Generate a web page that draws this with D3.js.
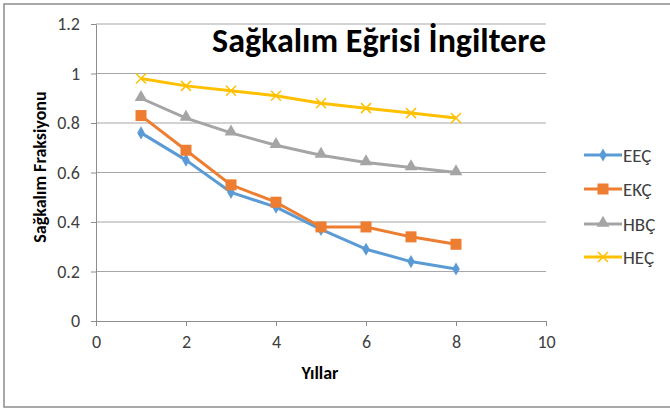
<!DOCTYPE html>
<html>
<head>
<meta charset="utf-8">
<script src="https://cdn.jsdelivr.net/npm/d3@7"></script>
<style>
  body { margin: 0; background: #fff; }
  text { font-family: Carlito, Calibri, "Open Sans", sans-serif; }
</style>
</head>
<body>
<svg id="chart" width="670" height="409"></svg>
<script>
const years = [1, 2, 3, 4, 5, 6, 7, 8];
const eec = [0.76, 0.65, 0.52, 0.46, 0.37, 0.29, 0.24, 0.21];
const ekc = [0.83, 0.69, 0.55, 0.48, 0.38, 0.38, 0.34, 0.31];
const hbc = [0.90, 0.82, 0.76, 0.71, 0.67, 0.64, 0.62, 0.60];
const hec = [0.98, 0.95, 0.93, 0.91, 0.88, 0.86, 0.84, 0.82];
const seriesNames = ["EEÇ", "EKÇ", "HBÇ", "HEÇ"];
const xTicks = [0, 2, 4, 6, 8, 10];
const yTicks = [0, 0.2, 0.4, 0.6, 0.8, 1, 1.2];

const series = [
  { name: seriesNames[0], values: eec, color: "#5b9bd5", marker: "diamond" },
  { name: seriesNames[1], values: ekc, color: "#ed7d31", marker: "square" },
  { name: seriesNames[2], values: hbc, color: "#a5a5a5", marker: "triangle" },
  { name: seriesNames[3], values: hec, color: "#ffc000", marker: "x" }
];

const svg = d3.select("#chart");

// outer chart border
svg.append("rect")
  .attr("x", 4).attr("y", 4)
  .attr("width", 680).attr("height", 403)
  .attr("fill", "none")
  .attr("stroke", "#8c8c8c")
  .attr("stroke-width", 1.5);

const x = d3.scaleLinear().domain([0, 10]).range([96, 546]);
const y = d3.scaleLinear().domain([0, 1.2]).range([321, 24]);

// gridlines
svg.append("g")
  .selectAll("line")
  .data(yTicks.filter((d) => d > 0))
  .join("line")
  .attr("x1", x(0)).attr("x2", x(10))
  .attr("y1", (d) => y(d)).attr("y2", (d) => y(d))
  .attr("stroke", "#a6a6a6")
  .attr("stroke-width", 1);

const xAxis = svg.append("g")
  .attr("transform", `translate(0,${y(0)})`)
  .call(d3.axisBottom(x).tickValues(xTicks).tickSize(5).tickSizeOuter(0).tickPadding(9));
const yAxis = svg.append("g")
  .attr("transform", `translate(${x(0)},0)`)
  .call(d3.axisLeft(y).tickValues(yTicks).tickSize(5).tickSizeOuter(0).tickPadding(11)
    .tickFormat((d) => String(d)));

[xAxis, yAxis].forEach((ax) => {
  ax.select(".domain").attr("stroke", "#8c8c8c");
  ax.selectAll(".tick line").attr("stroke", "#8c8c8c");
  ax.selectAll(".tick text")
    .attr("fill", "#404040")
    .style("font-size", "18px");
});

const line = d3.line()
  .x((d, i) => x(years[i]))
  .y((d) => y(d));

function drawMarker(g, type, color, cx, cy) {
  if (type === "diamond") {
    g.append("path")
      .attr("d", d3.symbol(d3.symbolDiamond, 50)())
      .attr("transform", `translate(${cx},${cy})`)
      .attr("fill", color);
  } else if (type === "square") {
    g.append("rect")
      .attr("x", cx - 5.5).attr("y", cy - 5.5)
      .attr("width", 11).attr("height", 11)
      .attr("fill", color);
  } else if (type === "triangle") {
    g.append("path")
      .attr("d", d3.symbol(d3.symbolTriangle, 70)())
      .attr("transform", `translate(${cx},${cy - 1})`)
      .attr("fill", color);
  } else {
    g.append("path")
      .attr("d", `M${cx - 5},${cy - 5}L${cx + 5},${cy + 5}M${cx - 5},${cy + 5}L${cx + 5},${cy - 5}`)
      .attr("stroke", color)
      .attr("stroke-width", 1.5);
  }
}

series.forEach((s) => {
  const g = svg.append("g");
  g.append("path")
    .datum(s.values)
    .attr("d", line)
    .attr("fill", "none")
    .attr("stroke", s.color)
    .attr("stroke-width", 3)
    .attr("stroke-linejoin", "round");
  s.values.forEach((v, i) => drawMarker(g, s.marker, s.color, x(years[i]), y(v)));
});

// legend
const legendY = [155, 189, 224, 257];
series.forEach((s, i) => {
  const g = svg.append("g");
  g.append("line")
    .attr("x1", 584).attr("x2", 622)
    .attr("y1", legendY[i]).attr("y2", legendY[i])
    .attr("stroke", s.color)
    .attr("stroke-width", 3);
  drawMarker(g, s.marker, s.color, 603, legendY[i]);
  g.append("text")
    .attr("x", 623).attr("y", legendY[i])
    .attr("dy", "0.35em")
    .attr("fill", "#404040")
    .style("font-size", "19px")
    .text(s.name);
});

// titles
svg.append("text")
  .attr("x", 546).attr("y", 52)
  .attr("text-anchor", "end")
  .style("font-size", "34px")
  .style("font-weight", "bold")
  .attr("fill", "#000")
  .text("Sağkalım Eğrisi İngiltere");

svg.append("text")
  .attr("x", x(5) - 1).attr("y", 379)
  .attr("text-anchor", "middle")
  .style("font-size", "18px")
  .style("font-weight", "bold")
  .attr("fill", "#000")
  .text("Yıllar");

svg.append("text")
  .attr("transform", `translate(46,167) rotate(-90)`)
  .attr("text-anchor", "middle")
  .style("font-size", "18px")
  .style("font-weight", "bold")
  .attr("fill", "#000")
  .text("Sağkalım Fraksiyonu");
</script>
</body>
</html>
